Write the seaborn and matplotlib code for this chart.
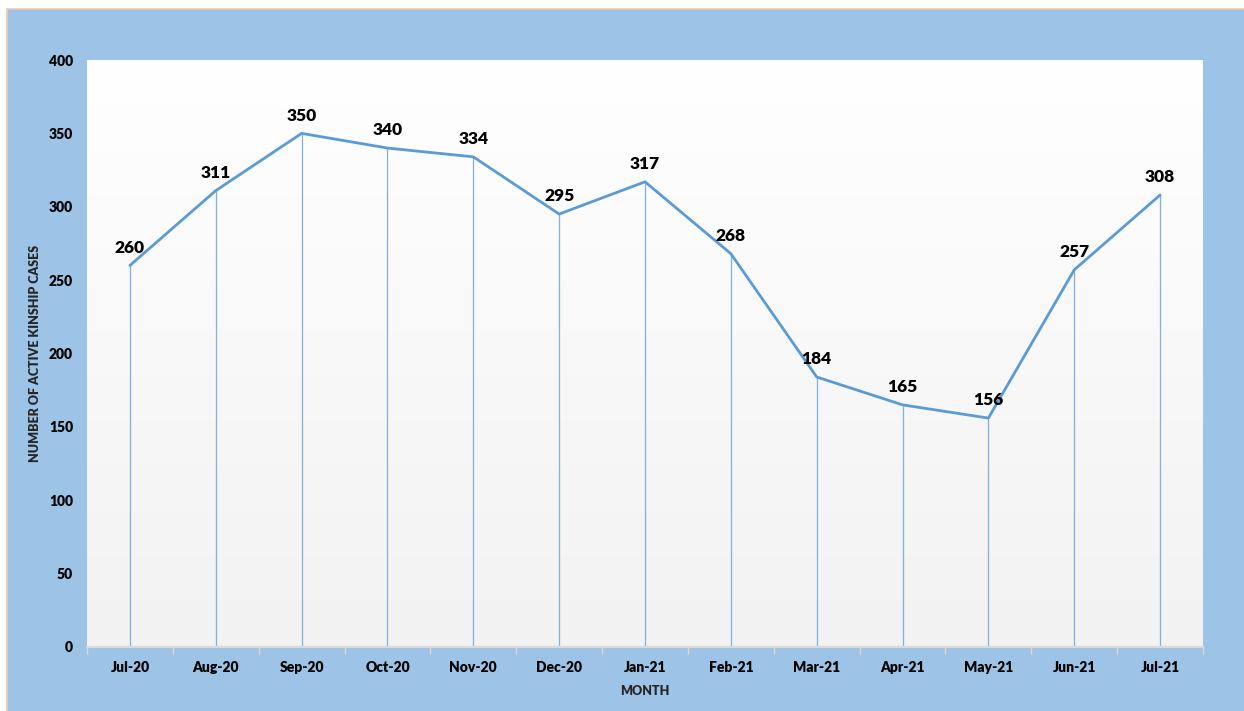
import matplotlib
matplotlib.use("Agg")
import matplotlib.pyplot as plt
import seaborn as sns
import numpy as np
import pandas as pd
from matplotlib.patches import Rectangle

months = ["Jul-20", "Aug-20", "Sep-20", "Oct-20", "Nov-20", "Dec-20", "Jan-21",
          "Feb-21", "Mar-21", "Apr-21", "May-21", "Jun-21", "Jul-21"]
cases = [260, 311, 350, 340, 334, 295, 317, 268, 184, 165, 156, 257, 308]
y_ticks = [0, 50, 100, 150, 200, 250, 300, 350, 400]

sns.set_theme(style="white")
plt.rcParams['font.family'] = ['Lato', 'DejaVu Sans']
WT = "heavy"

df = pd.DataFrame({"month": months, "cases": cases})
W, H = 1244, 711
fig = plt.figure(figsize=(W / 100, H / 100), dpi=100)
fig.patch.set_facecolor("white")
bg = Rectangle((7.5 / W, -0.01), 1.02, 1 - 8.5 / H + 0.01,
               transform=fig.transFigure, facecolor="#9DC3E6",
               edgecolor="#F4C7AE", linewidth=1.2, zorder=-10)
fig.patches.append(bg)

ax = fig.add_axes([87 / W, 1 - 647 / H, (1203 - 87) / W, (647 - 60) / H])
ax.set_zorder(5)
ax.set_facecolor("none")

n = len(months)
# gradient background
grad = np.linspace(1.0, 0.949, 256).reshape(-1, 1)
ax.imshow(np.dstack([grad, grad, grad]), extent=(-0.5, n - 0.5, 0, 400),
          aspect="auto", origin="upper", zorder=0)

xs = np.arange(n)
ax.vlines(xs, 0, cases, color="#9DC3E6", linewidth=1.0, zorder=1)
ax.vlines(xs, 0, cases, color="#5B9BD5", linewidth=0.5, alpha=0.6, zorder=1)
sns.lineplot(data=df, x="month", y="cases", sort=False, ax=ax,
             color="#5B9BD5", linewidth=2.0, zorder=3)

for i, v in enumerate(cases):
    ax.annotate(str(v), (i, v), xytext=(0, 7), textcoords="offset points",
                ha="center", va="bottom", fontsize=12.5, fontweight=WT,
                color="black")

ax.set_xlim(-0.5, n - 0.5)
ax.set_ylim(0, 400)
ax.set_yticks(y_ticks)
ax.set_yticklabels([str(t) for t in y_ticks], fontsize=10, fontweight=WT)
ax.set_xticks(xs)
ax.set_xticklabels(months, fontsize=10, fontweight=WT)
ax.set_xticks(np.arange(-0.5, n, 1.0), minor=True)
ax.tick_params(axis="x", which="major", length=0, pad=10, colors="black")
ax.tick_params(axis="x", which="minor", length=5, width=1, color="#D9D9D9",
               direction="out", bottom=True)
ax.tick_params(axis="y", length=0, pad=10, colors="black")
for s in ["top", "right", "left"]:
    ax.spines[s].set_visible(False)
ax.spines["bottom"].set_color("#D9D9D9")
ax.spines["bottom"].set_linewidth(1.5)
ax.spines["bottom"].set_zorder(4)
ax.grid(False)

ax.set_xlabel("MONTH", fontsize=9, fontweight=WT, labelpad=8)
ax.set_ylabel("NUMBER OF ACTIVE KINSHIP CASES", fontsize=9, fontweight=WT,
              labelpad=6)

fig.savefig("out.png", dpi=100)
